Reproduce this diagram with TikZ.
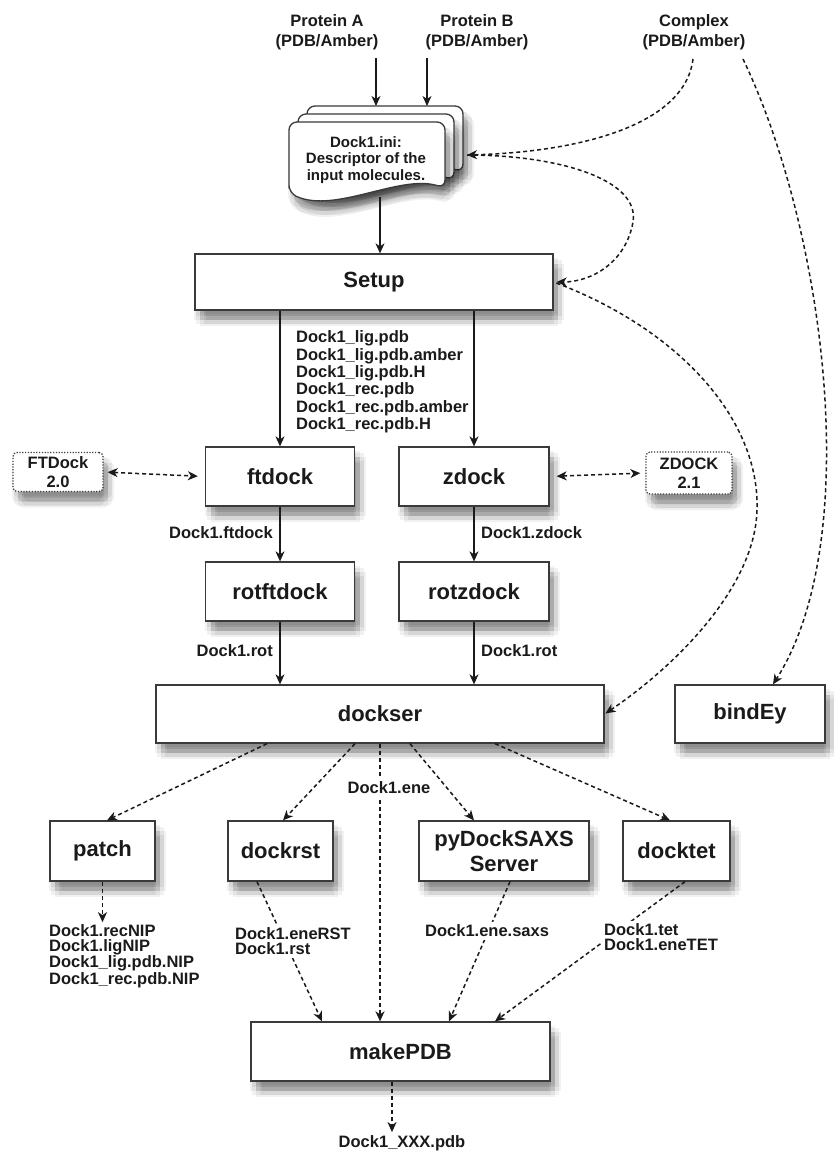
\documentclass[tikz,border=0pt]{standalone}
\usepackage{fontspec}
\setmainfont{Liberation Sans}
\usetikzlibrary{arrows.meta,shadows}
\definecolor{boxline}{HTML}{3A3A3A}
\definecolor{ink}{HTML}{1A1A1A}
\tikzset{
  softshadow/.style={
    general shadow={fill=black,opacity=.055,shadow xshift=-1pt,shadow yshift=-10pt},
    general shadow={fill=black,opacity=.055,shadow xshift=11pt,shadow yshift=-10pt},
    general shadow={fill=black,opacity=.055,shadow xshift=5pt,shadow yshift=-4pt},
    general shadow={fill=black,opacity=.055,shadow xshift=5pt,shadow yshift=-16pt},
    general shadow={fill=black,opacity=.055,shadow xshift=1pt,shadow yshift=-6pt},
    general shadow={fill=black,opacity=.055,shadow xshift=9pt,shadow yshift=-6pt},
    general shadow={fill=black,opacity=.055,shadow xshift=1pt,shadow yshift=-14pt},
    general shadow={fill=black,opacity=.055,shadow xshift=9pt,shadow yshift=-14pt},
    general shadow={fill=black,opacity=.10,shadow xshift=5pt,shadow yshift=-10pt}},
  box/.style={rectangle,draw=boxline,line width=1.3pt,fill=white,text=ink,
    font=\bfseries\fontsize{22}{25}\selectfont,align=center,inner sep=0pt,softshadow},
  extbox/.style={rectangle,draw=boxline,line width=1.3pt,dash pattern=on 1.2pt off 1.6pt,
    rounded corners=4pt,fill=white,text=ink,
    font=\bfseries\fontsize{16.5}{19}\selectfont,align=center,inner sep=0pt,softshadow},
  lbl/.style={text=ink,font=\bfseries\fontsize{16.5}{17.4}\selectfont,inner sep=0pt},
  wlbl/.style={lbl,fill=white,inner sep=3pt},
  >={Stealth[length=10pt,width=9pt,inset=3pt]},
  flow/.style={draw=ink,line width=1.2pt,->},
  dflow/.style={draw=ink,line width=1.5pt,dash pattern=on 4pt off 3pt,->},
  sheet/.style={draw=boxline,line width=1.3pt,fill=white,rounded corners=8pt,softshadow},
}
\begin{document}
\begin{tikzpicture}[x=1pt,y=-1pt]
\fill[white] (0,0) rectangle (834,1152);
\useasboundingbox (0,0) rectangle (834,1152);

% inputs
\node[lbl,align=center,font=\bfseries\fontsize{16.5}{20.5}\selectfont] (protA) at (327,32) {Protein A\\(PDB/Amber)};
\node[lbl,align=center,font=\bfseries\fontsize{16.5}{20.5}\selectfont] (protB) at (477,32) {Protein B\\(PDB/Amber)};
\node[lbl,align=center,font=\bfseries\fontsize{16.5}{20.5}\selectfont] (cplx) at (694,32) {Complex\\(PDB/Amber)};

% document stack
\draw[sheet,shift={(18,-16)}] (289,193) -- (289,122) -- (445,122) -- (445,188) .. controls (400,174) and (335,214) .. cycle;
\draw[sheet,shift={(9,-8)}] (289,193) -- (289,122) -- (445,122) -- (445,188) .. controls (400,174) and (335,214) .. cycle;
\draw[sheet] (289,193) -- (289,122) -- (445,122) -- (445,188) .. controls (400,174) and (335,214) .. cycle;
\node[lbl,align=center,font=\bfseries\fontsize{15}{16.5}\selectfont] (doc) at (366,160) {Dock1.ini:\\Descriptor of the\\input molecules.};
\coordinate (pA) at (376,58);
\coordinate (pB) at (427,58);
\coordinate (docA) at (376,106);
\coordinate (docB) at (427,106);
\coordinate (docS) at (380,197);
\coordinate (docE) at (467,155);
\coordinate (cS1) at (693,59);
\coordinate (cS2) at (743,59);

% main boxes
\node[box,minimum width=358pt,minimum height=56pt] (setup) at (374,282) {Setup};
\node[box,minimum width=149pt,minimum height=59pt] (ftdock) at (280,476.5) {ftdock};
\node[box,minimum width=150pt,minimum height=59pt] (zdock) at (474,476.5) {zdock};
\node[extbox,minimum width=90pt,minimum height=39pt] (ftd) at (58,472) {FTDock\\2.0};
\node[extbox,minimum width=86pt,minimum height=42pt] (zd) at (689,473) {ZDOCK\\2.1};
\node[box,minimum width=149pt,minimum height=59pt] (rotft) at (280,591.5) {rotftdock};
\node[box,minimum width=150pt,minimum height=59pt] (rotzd) at (474,591.5) {rotzdock};
\node[box,minimum width=448pt,minimum height=58pt] (dockser) at (380,714) {dockser};
\node[box,minimum width=150pt,minimum height=58pt] (bindey) at (750,714) {bindEy};
\node[box,minimum width=105pt,minimum height=60pt] (patch) at (102.5,851) {patch};
\node[box,minimum width=105pt,minimum height=60pt] (dockrst) at (280.5,851) {dockrst};
\node[box,minimum width=170pt,minimum height=60pt] (pysaxs) at (504,851) {pyDockSAXS\\Server};
\node[box,minimum width=107pt,minimum height=60pt] (docktet) at (676.5,851) {docktet};
\node[box,minimum width=299pt,minimum height=59pt] (makepdb) at (400.5,1051.5) {makePDB};

% solid flows
\draw[flow] (pA) -- (docA);
\draw[flow] (pB) -- (docB);
\draw[flow] (docS) -- (setup.north -| docS);
\draw[flow] (setup.south -| ftdock) -- (ftdock.north);
\draw[flow] (setup.south -| zdock) -- (zdock.north);
\draw[flow] (ftdock) -- (rotft);
\draw[flow] (zdock) -- (rotzd);
\draw[flow] (rotft.south) -- (rotft |- dockser.north);
\draw[flow] (rotzd.south) -- (rotzd |- dockser.north);
\draw[dflow,<->,shorten <=4pt,shorten >=7pt] (ftd.east) -- (ftdock.west);
\draw[dflow,<->,shorten <=7pt,shorten >=5pt] (zdock.east) -- (zd.west);

% labels beside solid flows
\node[lbl,anchor=west,align=left] (files) at (296,382) {Dock1\_lig.pdb\\Dock1\_lig.pdb.amber\\Dock1\_lig.pdb.H\\Dock1\_rec.pdb\\Dock1\_rec.pdb.amber\\Dock1\_rec.pdb.H};
\node[lbl,anchor=east] (ftl) at (273,533) {Dock1.ftdock};
\node[lbl,anchor=west] (zdl) at (481,533) {Dock1.zdock};
\node[lbl,anchor=east] (rl1) at (273,651) {Dock1.rot};
\node[lbl,anchor=west] (rl2) at (481,651) {Dock1.rot};

% complex curves
\draw[dflow] (cS1) .. controls (685,125) and (580,152) .. (docE);
\draw[dflow,shorten >=3pt] (docE) .. controls (560,155) and (640,180) .. (633,222) .. controls (626,262) and (592,282) .. (setup.east);
\draw[dflow,shorten <=3pt,shorten >=1pt] (setup.east) .. controls (680,330) and (760,420) .. (757,510) .. controls (755,590) and (670,670) .. (dockser.east);
\draw[dflow] (cS2) .. controls (825,230) and (865,540) .. ([xshift=23pt]bindey.north);

% from dockser
\draw[dflow] ([xshift=-113pt]dockser.south) -- ([xshift=4.5pt]patch.north);
\draw[dflow] ([xshift=-25pt]dockser.south) -- ([xshift=2.5pt]dockrst.north);
\draw[dflow] (dockser.south) -- (dockser.south |- makepdb.north);
\draw[dflow] ([xshift=30pt]dockser.south) -- ([xshift=-30pt]pysaxs.north);
\draw[dflow] ([xshift=115pt]dockser.south) -- ([xshift=-6.5pt]docktet.north);

% to makePDB
\draw[dflow] ([xshift=-23.5pt]dockrst.south) -- ([xshift=-78.5pt]makepdb.north);
\draw[dflow] ([xshift=6pt]pysaxs.south) -- ([xshift=48.5pt]makepdb.north);
\draw[dflow] ([xshift=8.5pt]docktet.south) -- ([xshift=94.5pt]makepdb.north);

% outputs
\node[lbl,anchor=west,align=left,font=\bfseries\fontsize{16.5}{15}\selectfont] (nip) at (49,956) {Dock1.recNIP\\Dock1.ligNIP\\Dock1\_lig.pdb.NIP\\Dock1\_rec.pdb.NIP};
\draw[dflow,shorten >=2pt] (patch.south) -- (patch |- nip.north);
\node[lbl] (xxx) at (402,1143) {Dock1\_XXX.pdb};
\draw[dflow,shorten >=3pt] ([xshift=-8.5pt]makepdb.south) -- ([xshift=-10pt]xxx.north);

% labels over dashed flows
\node[wlbl] (enel) at (389,788) {Dock1.ene};
\node[wlbl,anchor=west,align=left,font=\bfseries\fontsize{16.5}{15}\selectfont] (rstl) at (232,941) {Dock1.eneRST\\Dock1.rst};
\node[wlbl,anchor=west] (saxsl) at (422,931) {Dock1.ene.saxs};
\node[wlbl,anchor=west,align=left,font=\bfseries\fontsize{16.5}{14.5}\selectfont] (tetl) at (601,937) {Dock1.tet\\Dock1.eneTET};
\end{tikzpicture}
\end{document}
